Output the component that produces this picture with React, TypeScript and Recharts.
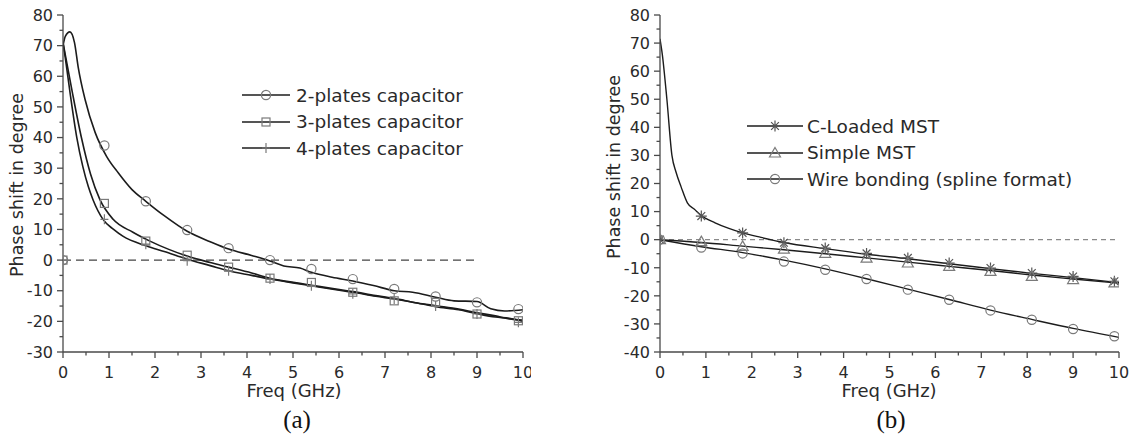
import React from 'react';
import { LineChart, Line, XAxis, YAxis, ReferenceLine, Legend } from 'recharts';

// shared axes
const freqTicks = [0, 0.5, 1, 1.5, 2, 2.5, 3, 3.5, 4, 4.5, 5, 5.5, 6, 6.5, 7, 7.5, 8, 8.5, 9, 9.5, 10];
const phaseTicksA = [-30, -25, -20, -15, -10, -5, 0, 5, 10, 15, 20, 25, 30, 35, 40, 45, 50, 55, 60, 65, 70, 75, 80];
const phaseTicksB = [-40, -35, -30, -25, -20, -15, -10, -5, 0, 5, 10, 15, 20, 25, 30, 35, 40, 45, 50, 55, 60, 65, 70, 75, 80];
const markerFreq = [0, 0.9, 1.8, 2.7, 3.6, 4.5, 5.4, 6.3, 7.2, 8.1, 9.0, 9.9];

// (a) curves
const twoPlatesFreq = [0, 0.05, 0.15, 0.25, 0.33, 0.48, 0.7, 0.95, 1.2, 1.5, 1.8, 2.2, 2.7, 3.2, 3.6, 4.1, 4.5, 4.8, 5.15, 5.4, 5.85, 6.3, 6.75, 7.2, 7.6, 8.1, 8.5, 9.0, 9.3, 9.6, 10];
const twoPlatesPhase = [70, 73, 74.5, 71, 63, 52.4, 41.6, 33.8, 28.5, 23, 19.2, 14.5, 9.4, 6, 3.6, 1.5, -0.3, -1.9, -2.6, -4, -5.6, -6.8, -8.3, -10, -10.5, -12.1, -13.3, -13.5, -15.9, -16.6, -16.2];
const threePlatesFreq = [0, 0.05, 0.2, 0.4, 0.6, 0.8, 1.09, 1.52, 1.89, 2.3, 2.7, 3.2, 3.6, 4.1, 4.5, 5.15, 5.4, 5.9, 6.3, 6.8, 7.2, 7.7, 8.1, 8.6, 9.0, 9.4, 9.7, 10];
const threePlatesPhase = [71, 67, 55, 40, 28, 19.8, 13.3, 9.1, 6.2, 3.5, 1.3, -0.8, -2.3, -4.2, -5.9, -7.6, -8.2, -9.4, -10.3, -11.6, -12.5, -14, -14.9, -16, -17.2, -18.2, -19.2, -19.6];
const fourPlatesFreq = [0, 0.05, 0.15, 0.3, 0.43, 0.55, 0.65, 0.87, 1.1, 1.3, 1.82, 2.2, 2.7, 3.2, 3.6, 4.1, 4.5, 5.15, 5.4, 5.9, 6.3, 6.8, 7.2, 7.7, 8.1, 8.6, 9.0, 9.4, 9.7, 10];
const fourPlatesPhase = [71, 66, 55, 40, 30.6, 24, 19.8, 13.3, 10, 7.8, 4.6, 2.8, 0.3, -1.8, -3.5, -5, -6.2, -7.8, -8.4, -9.6, -10.5, -11.8, -12.7, -14, -15.2, -16.2, -17.5, -18.6, -19, -20];

// (a) markers
const twoPlatesMarks = [0, 37.4, 19.2, 9.8, 3.9, 0, -2.9, -6.2, -9.4, -11.9, -13.8, -16];
const threePlatesMarks = [0, 18.5, 6.2, 1.6, -2.3, -5.9, -7.3, -10.5, -13.3, -13.8, -17.6, -19.8];
const fourPlatesMarks = [0, 13.3, 5.2, -0.2, -3.5, -6.2, -8.4, -11, -12.7, -15, -17.6, -20.3];

// (b) curves
const cLoadedFreq = [0, 0.05, 0.15, 0.26, 0.35, 0.46, 0.6, 0.75, 0.9, 1.2, 1.5, 1.8, 2.2, 2.7, 3.6, 4.5, 5.4, 6.3, 7.2, 8.1, 9.0, 10];
const cLoadedPhase = [71.5, 66, 50, 30, 24, 18.8, 13, 10.8, 8.6, 6, 4, 2.4, 0.8, -1, -3.2, -5.2, -6.8, -8.6, -10.3, -12, -13.5, -15.3];
const simpleFreq = [0, 0.9, 1.8, 2.7, 3.6, 4.5, 5.4, 6.3, 7.2, 8.1, 9.0, 10];
const simplePhase = [0, -1, -2.3, -3.6, -5, -6.5, -8, -9.5, -11, -12.6, -14, -15.5];
const wireFreq = [0, 0.9, 1.8, 2.7, 3.6, 4.5, 5.4, 6.3, 7.2, 8.1, 9.0, 10];
const wirePhase = [0, -2.5, -4.6, -7.3, -10.4, -13.9, -17.6, -21.3, -25.1, -28.4, -31.6, -34.8];

// (b) markers
const cLoadedMarks = [0, 8.4, 2.4, -1.1, -3, -4.9, -6.5, -8.3, -10.1, -11.9, -13.1, -14.8];
const simpleMarks = [0, -0.7, -2.4, -3.4, -4.9, -6.6, -8.3, -9.5, -11.3, -13.1, -14.2, -15.4];
const wireMarks = [0, -2.8, -4.9, -7.8, -10.7, -14, -17.8, -21.4, -25.2, -28.5, -31.8, -34.4];

const zip = (xs: number[], ys: number[]) => xs.map((x, i) => ({ x, y: ys[i] }));

const SANS = '"DejaVu Sans", sans-serif';
const SERIF = '"Liberation Serif", "Times New Roman", serif';
const AXIS = '#4a4a4a';
const TEXT = '#2a2a2a';
const CURVE = '#1c1c1c';
const MARK = '#7a7a7a';

type Shape = 'circle' | 'square' | 'plus' | 'star' | 'triangle';

function marker(shape: Shape, cx: number, cy: number, key?: string) {
  const p = { stroke: MARK, strokeWidth: 1.2, fill: 'none' };
  if (shape === 'circle') return <circle key={key} cx={cx} cy={cy} r={4.6} {...p} />;
  if (shape === 'square') return <rect key={key} x={cx - 4} y={cy - 4} width={8} height={8} {...p} />;
  if (shape === 'plus')
    return <path key={key} d={`M${cx - 4},${cy}H${cx + 4}M${cx},${cy - 5}V${cy + 5}`} {...p} />;
  if (shape === 'triangle')
    return <path key={key} d={`M${cx},${cy - 5.5}L${cx + 5.5},${cy + 4}L${cx - 5.5},${cy + 4}Z`} {...p} />;
  const r = 5.5;
  const d = r * 0.707;
  return (
    <path
      key={key}
      d={`M${cx - r},${cy}H${cx + r}M${cx},${cy - r}V${cy + r}M${cx - d},${cy - d}L${cx + d},${cy + d}M${cx - d},${cy + d}L${cx + d},${cy - d}`}
      stroke="#555"
      strokeWidth={1.2}
      fill="none"
    />
  );
}

const dotOf = (shape: Shape) => (props: any) => {
  const { cx, cy, index } = props;
  if (cx == null || cy == null) return <g key={`e-${index}`} />;
  return marker(shape, cx, cy, `${shape}-${index}`);
};

function XTick({ x, y, payload }: any) {
  const v = payload.value;
  const major = Math.abs(v - Math.round(v)) < 1e-6;
  return (
    <g>
      <line x1={x} x2={x} y1={y} y2={y + (major ? 6 : 3.5)} stroke={AXIS} strokeWidth={1.3} />
      {major && (
        <text x={x} y={y + 26} textAnchor="middle" fontSize={16} fill={TEXT} fontFamily={SANS}>
          {v}
        </text>
      )}
    </g>
  );
}

function YTick({ x, y, payload }: any) {
  const v = payload.value;
  const major = v % 10 === 0;
  return (
    <g>
      <line x1={x} x2={x - (major ? 6 : 3.5)} y1={y} y2={y} stroke={AXIS} strokeWidth={1.3} />
      {major && (
        <text x={x - 10} y={y} dy="0.36em" textAnchor="end" fontSize={16} fill={TEXT} fontFamily={SANS}>
          {v}
        </text>
      )}
    </g>
  );
}

interface LegendItem {
  label: string;
  shape: Shape;
}

function LegendBlock({ items, lineWidth, gap }: { items: LegendItem[]; lineWidth: number; gap: number }) {
  return (
    <div style={{ fontFamily: SANS, fontSize: 18.5, color: TEXT }}>
      {items.map((it) => (
        <div key={it.label} style={{ display: 'flex', alignItems: 'center', height: 26.5, whiteSpace: 'nowrap' }}>
          <svg width={lineWidth} height={16} style={{ overflow: 'visible' }}>
            <line x1={0} x2={lineWidth} y1={8} y2={8} stroke={CURVE} strokeWidth={1.5} />
            {marker(it.shape, lineWidth / 2, 8)}
          </svg>
          <span style={{ marginLeft: gap }}>{it.label}</span>
        </div>
      ))}
    </div>
  );
}

const legendA: LegendItem[] = [
  { label: '2-plates capacitor', shape: 'circle' },
  { label: '3-plates capacitor', shape: 'square' },
  { label: '4-plates capacitor', shape: 'plus' },
];
const legendB: LegendItem[] = [
  { label: 'C-Loaded MST', shape: 'star' },
  { label: 'Simple MST', shape: 'triangle' },
  { label: 'Wire bonding (spline format)', shape: 'circle' },
];

const axisLine = { stroke: AXIS, strokeWidth: 1.3 };

function PanelA() {
  return (
    <LineChart width={531} height={446} margin={{ top: 15, right: 8, bottom: 64, left: 0 }}>
      <XAxis
        type="number"
        dataKey="x"
        domain={[0, 10]}
        ticks={freqTicks}
        interval={0}
        height={30}
        tickSize={0}
        tickMargin={0}
        tickLine={false}
        axisLine={axisLine}
        tick={<XTick />}
        allowDataOverflow
      />
      <YAxis
        type="number"
        domain={[-30, 80]}
        ticks={phaseTicksA}
        interval={0}
        width={63}
        tickSize={0}
        tickMargin={0}
        tickLine={false}
        axisLine={axisLine}
        tick={<YTick />}
        allowDataOverflow
      />
      <ReferenceLine segment={[{ x: 0, y: 0 }, { x: 9, y: 0 }]} stroke="#444" strokeWidth={1.3} strokeDasharray="8 5" />
      <Line data={zip(twoPlatesFreq, twoPlatesPhase)} dataKey="y" type="monotone" stroke={CURVE} strokeWidth={1.6} dot={false} activeDot={false} isAnimationActive={false} />
      <Line data={zip(threePlatesFreq, threePlatesPhase)} dataKey="y" type="monotone" stroke={CURVE} strokeWidth={1.6} dot={false} activeDot={false} isAnimationActive={false} />
      <Line data={zip(fourPlatesFreq, fourPlatesPhase)} dataKey="y" type="monotone" stroke={CURVE} strokeWidth={1.6} dot={false} activeDot={false} isAnimationActive={false} />
      <Line data={zip(markerFreq, twoPlatesMarks)} dataKey="y" stroke="none" dot={dotOf('circle')} activeDot={false} isAnimationActive={false} />
      <Line data={zip(markerFreq, threePlatesMarks)} dataKey="y" stroke="none" dot={dotOf('square')} activeDot={false} isAnimationActive={false} />
      <Line data={zip(markerFreq, fourPlatesMarks)} dataKey="y" stroke="none" dot={dotOf('plus')} activeDot={false} isAnimationActive={false} />
      <Legend
        layout="horizontal"
        verticalAlign="middle"
        align="center"
        wrapperStyle={{ left: 242, top: 82, width: 280 }}
        content={() => <LegendBlock items={legendA} lineWidth={48} gap={6} />}
      />
    </LineChart>
  );
}

function PanelB() {
  return (
    <LineChart width={535} height={446} margin={{ top: 15, right: 16, bottom: 64, left: 0 }}>
      <XAxis
        type="number"
        dataKey="x"
        domain={[0, 10]}
        ticks={freqTicks}
        interval={0}
        height={30}
        tickSize={0}
        tickMargin={0}
        tickLine={false}
        axisLine={axisLine}
        tick={<XTick />}
        allowDataOverflow
      />
      <YAxis
        type="number"
        domain={[-40, 80]}
        ticks={phaseTicksB}
        interval={0}
        width={60}
        tickSize={0}
        tickMargin={0}
        tickLine={false}
        axisLine={axisLine}
        tick={<YTick />}
        allowDataOverflow
      />
      <ReferenceLine y={0} stroke="#8a8a8a" strokeWidth={1.2} strokeDasharray="5 4" />
      <Line data={zip(cLoadedFreq, cLoadedPhase)} dataKey="y" type="monotone" stroke={CURVE} strokeWidth={1.4} dot={false} activeDot={false} isAnimationActive={false} />
      <Line data={zip(simpleFreq, simplePhase)} dataKey="y" type="monotone" stroke={CURVE} strokeWidth={1.4} dot={false} activeDot={false} isAnimationActive={false} />
      <Line data={zip(wireFreq, wirePhase)} dataKey="y" type="monotone" stroke={CURVE} strokeWidth={1.4} dot={false} activeDot={false} isAnimationActive={false} />
      <Line data={zip(markerFreq, cLoadedMarks)} dataKey="y" stroke="none" dot={dotOf('star')} activeDot={false} isAnimationActive={false} />
      <Line data={zip(markerFreq, simpleMarks)} dataKey="y" stroke="none" dot={dotOf('triangle')} activeDot={false} isAnimationActive={false} />
      <Line data={zip(markerFreq, wireMarks)} dataKey="y" stroke="none" dot={dotOf('circle')} activeDot={false} isAnimationActive={false} />
      <Legend
        layout="horizontal"
        verticalAlign="middle"
        align="center"
        wrapperStyle={{ left: 147, top: 113, width: 380 }}
        content={() => <LegendBlock items={legendB} lineWidth={56} gap={4} />}
      />
    </LineChart>
  );
}

export default function App() {
  return (
    <div style={{ position: 'absolute', left: 0, top: 0, width: 1135, height: 446, background: '#fff', overflow: 'hidden' }}>
      <div style={{ position: 'absolute', left: 0, top: 0 }}>
        <PanelA />
      </div>
      <div style={{ position: 'absolute', left: 600, top: 0 }}>
        <PanelB />
      </div>
      <svg width={1135} height={446} style={{ position: 'absolute', left: 0, top: 0, pointerEvents: 'none' }}>
        <text transform="translate(23,185) rotate(-90)" textAnchor="middle" fontSize={17.5} fill={TEXT} fontFamily={SANS}>
          Phase shift in degree
        </text>
        <text transform="translate(620,167) rotate(-90)" textAnchor="middle" fontSize={17.5} fill={TEXT} fontFamily={SANS}>
          Phase shift in degree
        </text>
        <text x={294} y={397} textAnchor="middle" fontSize={18} fill={TEXT} fontFamily={SANS}>
          Freq (GHz)
        </text>
        <text x={889} y={397} textAnchor="middle" fontSize={18} fill={TEXT} fontFamily={SANS}>
          Freq (GHz)
        </text>
        <text x={297} y={428} textAnchor="middle" fontSize={25} fill="#111" fontFamily={SERIF}>
          (a)
        </text>
        <text x={891} y={428} textAnchor="middle" fontSize={25} fill="#111" fontFamily={SERIF}>
          (b)
        </text>
      </svg>
    </div>
  );
}
